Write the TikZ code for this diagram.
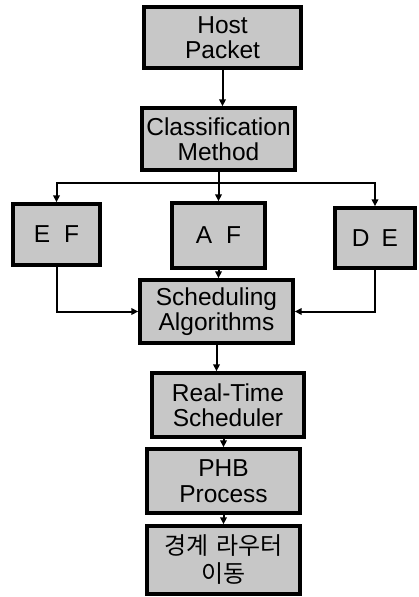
\documentclass[tikz,border=0pt]{standalone}
\usepackage{fontspec}
\setmainfont{Liberation Sans}
\newfontfamily\krfont{Noto Sans CJK KR}
\usetikzlibrary{arrows.meta}
\begin{document}
\begin{tikzpicture}[x=1pt,y=-1pt,
  box/.style={draw=black, line width=3.4pt, fill=black!22, align=center, inner sep=0pt,
    font=\fontsize{24.5}{25.5}\selectfont},
  conn/.style={line width=2pt, -{Triangle[length=7pt,width=6.5pt]}}]
\useasboundingbox (0,0) rectangle (419,597);
\node[box, minimum width=157pt, minimum height=61pt] (host) at (222.5,37.5) {Host\\Packet};
\node[box, minimum width=153pt, minimum height=62pt] (cls) at (218.5,139) {Classification\\Method};
\node[box, minimum width=87pt, minimum height=61pt] (ef) at (56.5,234.5) {E\hspace{14pt}F};
\node[box, minimum width=93pt, minimum height=65pt] (af) at (218.5,235.5) {A\hspace{14pt}F};
\node[box, minimum width=80pt, minimum height=60pt] (de) at (375,238) {D\hspace{12pt}E};
\node[box, minimum width=153pt, minimum height=63pt] (sch) at (216.5,311.5) {Scheduling\\Algorithms};
\node[box, minimum width=152pt, minimum height=64pt] (rt) at (228,405) {Real-Time\\Scheduler};
\node[box, minimum width=153pt, minimum height=64pt] (phb) at (223.5,481) {PHB\\Process};
\node[box, minimum width=153pt, minimum height=68pt, font=\krfont\fontsize{24}{28}\selectfont] (kor) at (223.5,560) {경계\hspace{8pt}라우터\\이동};
\coordinate (split) at (218.5,183);
% connectors
\draw[conn] (host.south) -- (host.south |- cls.north);
\draw[conn] (cls.south) -- (af.north);
\draw[conn] (split) -| (ef.north);
\draw[conn] (split) -| (de.north);
\draw[conn] (ef.south) |- (sch.west);
\draw[conn] (de.south) |- (sch.east);
\draw[conn] (af.south) -- (af.south |- sch.north);
\draw[conn] (sch.south) -- (sch.south |- rt.north);
\draw[conn] (phb.north |- rt.south) -- (phb.north);
\draw[conn] (phb.south) -- (kor.north);
\end{tikzpicture}
\end{document}
